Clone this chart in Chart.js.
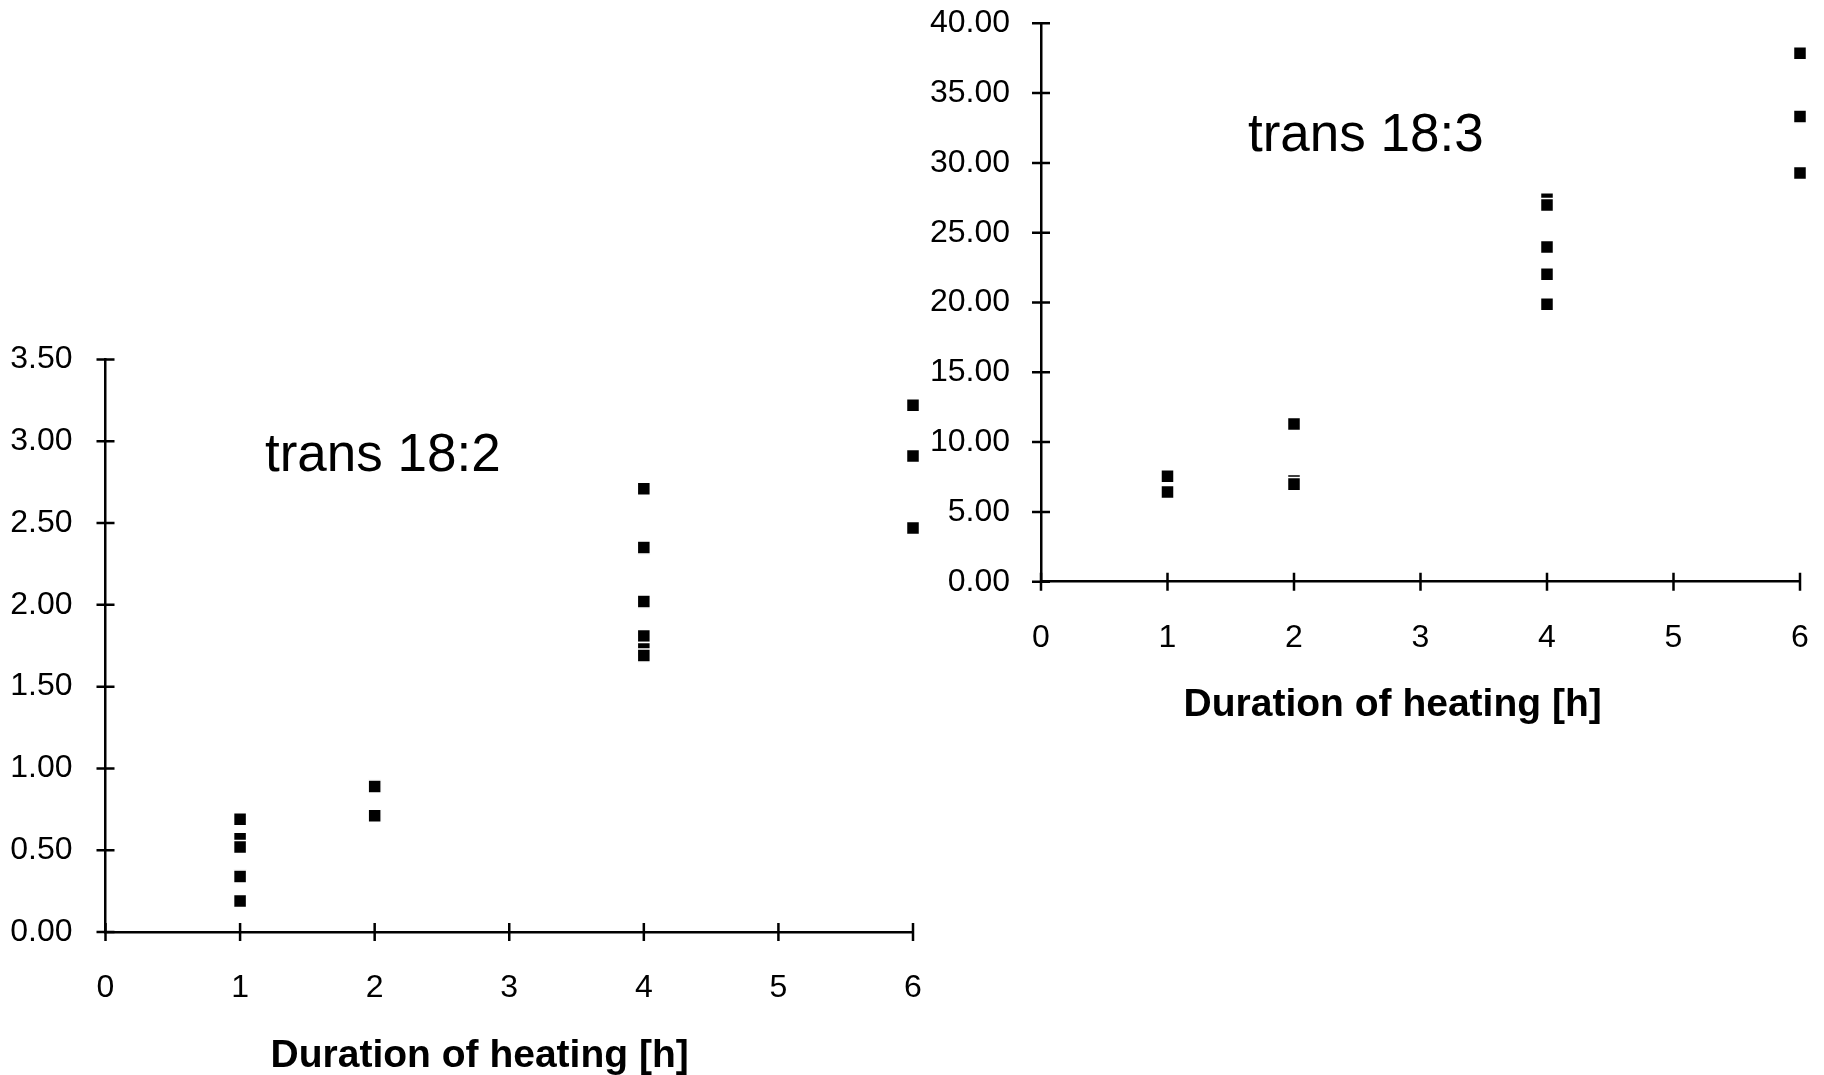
<!DOCTYPE html>
<html>
<head>
<meta charset="utf-8">
<title>trans fatty acids vs heating time</title>
<script src="https://cdn.jsdelivr.net/npm/chart.js@4.4.1/dist/chart.umd.min.js"></script>
<style>
  html, body { margin: 0; padding: 0; background: #fff; width: 1824px; height: 1075px; overflow: hidden; }
  canvas { position: absolute; }
  #chart182 { left: 0; top: 330px; }
  #chart183 { left: 925px; top: 0; }
</style>
</head>
<body>
<canvas id="chart182" width="925" height="745"></canvas>
<canvas id="chart183" width="899" height="730"></canvas>
<script>
// heating time ticks, shared by both panels
const hourTicks = [0, 1, 2, 3, 4, 5, 6];
const axisTitle = 'Duration of heating [h]';

// trans 18:2 (order matters, later squares sit on top of earlier ones)
const hours182 = [1, 1, 1, 1, 1, 2, 2, 4, 4, 4, 4, 4, 4, 6, 6, 6];
const trans182 = [0.69, 0.57, 0.52, 0.34, 0.19, 0.89, 0.71, 2.71, 2.35, 2.02, 1.81, 1.73, 1.69, 3.22, 2.91, 2.47];
const yTicks182 = [0, 0.5, 1.0, 1.5, 2.0, 2.5, 3.0, 3.5];

// trans 18:3
const hours183 = [1, 1, 2, 2, 2, 4, 4, 4, 4, 4, 6, 6, 6];
const trans183 = [7.56, 6.43, 11.3, 7.22, 6.99, 27.4, 26.98, 23.98, 22.02, 19.87, 37.85, 33.32, 29.27];
const yTicks183 = [0, 5, 10, 15, 20, 25, 30, 35, 40];

const fontFamily = "'Liberation Sans', Arial, sans-serif";
Chart.defaults.font.family = fontFamily;
Chart.defaults.color = '#000';

// short tick marks that cross the axis lines on both sides
const crossTicks = {
  id: 'crossTicks',
  afterDraw(chart) {
    const ctx = chart.ctx;
    const area = chart.chartArea;
    const xs = chart.scales.x, ys = chart.scales.y;
    ctx.save();
    ctx.strokeStyle = '#000';
    ctx.lineWidth = 2.5;
    ctx.beginPath();
    xs.ticks.forEach(t => {
      const px = xs.getPixelForValue(t.value);
      ctx.moveTo(px, area.bottom - 9);
      ctx.lineTo(px, area.bottom + 9);
    });
    ys.ticks.forEach(t => {
      const py = ys.getPixelForValue(t.value);
      ctx.moveTo(area.left - 9, py);
      ctx.lineTo(area.left + 9, py);
    });
    ctx.stroke();
    ctx.restore();
  }
};

// series name inside the plot and the x axis title, anchored on the x scale
const panelText = {
  id: 'panelText',
  afterDraw(chart, args, opts) {
    const ctx = chart.ctx;
    const xs = chart.scales.x, ys = chart.scales.y;
    ctx.save();
    ctx.fillStyle = '#000';
    ctx.font = '53px ' + fontFamily;
    ctx.textAlign = 'left';
    ctx.textBaseline = 'alphabetic';
    ctx.fillText(opts.text, xs.getPixelForValue(opts.x), ys.getPixelForValue(opts.y));
    ctx.font = 'bold 39px ' + fontFamily;
    ctx.textAlign = 'center';
    ctx.textBaseline = 'middle';
    ctx.fillText(axisTitle, xs.getPixelForValue(opts.titleX), chart.chartArea.bottom + opts.titleOffset);
    ctx.restore();
  }
};

function makeChart(id, hours, values, yTicks, label, box) {
  const ctx = document.getElementById(id).getContext('2d');
  return new Chart(ctx, {
    type: 'scatter',
    data: {
      datasets: [{
        data: hours.map((h, i) => ({ x: h, y: values[i] })),
        pointStyle: 'rect',
        pointRadius: 9.2,
        pointHoverRadius: 9.2,
        backgroundColor: '#000',
        borderColor: '#fff',
        borderWidth: 1.5,
        clip: false
      }]
    },
    options: {
      responsive: false,
      animation: false,
      layout: { padding: { left: 0, top: box.top, right: box.right, bottom: 0 } },
      plugins: {
        legend: { display: false },
        tooltip: { enabled: false },
        panelText: label
      },
      scales: {
        x: {
          type: 'linear',
          min: hourTicks[0],
          max: hourTicks[hourTicks.length - 1],
          afterBuildTicks: s => { s.ticks = hourTicks.map(v => ({ value: v })); },
          afterFit: s => { s.height = box.xHeight; },
          grid: { display: false, drawTicks: true, tickLength: 37 },
          border: { display: true, color: '#000', width: 2.5 },
          ticks: { font: { size: 32 }, padding: 0, callback: v => String(v) }
        },
        y: {
          type: 'linear',
          min: yTicks[0],
          max: yTicks[yTicks.length - 1],
          afterBuildTicks: s => { s.ticks = yTicks.map(v => ({ value: v })); },
          afterFit: s => { s.width = box.yWidth; },
          grid: { display: false, drawTicks: true, tickLength: box.yGap },
          border: { display: true, color: '#000', width: 2.5 },
          ticks: { font: { size: 32 }, padding: 0, callback: v => v.toFixed(2) }
        }
      }
    },
    plugins: [crossTicks, panelText]
  });
}

makeChart('chart182', hours182, trans182, yTicks182,
  { text: 'trans 18:2', x: 1.185, y: 2.82, titleX: 2.78, titleOffset: 124.5 },
  { top: 29.5, right: 12, xHeight: 143, yWidth: 105.5, yGap: 33 });

makeChart('chart183', hours183, trans183, yTicks183,
  { text: 'trans 18:3', x: 1.636, y: 30.85, titleX: 2.78, titleOffset: 124 },
  { top: 23.3, right: 24, xHeight: 148.3, yWidth: 116, yGap: 31 });
</script>
</body>
</html>
